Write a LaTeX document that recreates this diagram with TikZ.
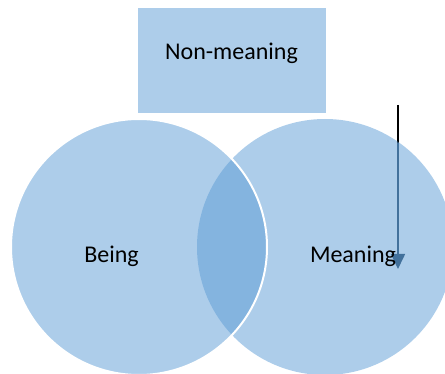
\documentclass[tikz,border=0pt]{standalone}
\usepackage{fontspec}
\setmainfont{Carlito}
\usetikzlibrary{arrows.meta}
\definecolor{accent}{HTML}{5B9BD5}
\definecolor{arrowblue}{HTML}{2A4763}
\tikzset{
  venn/.style={circle, minimum size=256pt, inner sep=0pt, fill=accent, fill opacity=0.5},
  vennedge/.style={venn, draw=white, line width=2pt, draw opacity=1},
  boxnode/.style={rectangle, minimum width=188pt, minimum height=105pt, inner sep=0pt, fill=accent, fill opacity=0.5},
  lbl/.style={font=\fontsize{24}{28}\selectfont, text=black, anchor=base, inner sep=0pt},
  arrowline/.style={line width=1.6pt}
}
\begin{document}
\begin{tikzpicture}[x=1pt,y=-1pt]
\useasboundingbox (0,0) rectangle (445,374);
\clip (0,0) rectangle (445,374);
\node[boxnode] (nonbox) at (232,60.5) {};
\node[lbl] (nonmeaning) at (231.5,60) {Non-meaning};
\coordinate (atop) at (398,105);
\coordinate (aentry) at (398,143);
\coordinate (aend) at (398,269);
\draw[arrowline, black] (atop) -- (aentry);
\draw[arrowline, arrowblue, -{Triangle[width=14pt,length=15pt]}] (aentry) -- (aend);
\node[venn] (meaningcircle) at (325,247) {};
\node[vennedge] (beingcircle) at (139,247) {};
\node[lbl] (being) at (111.5,263) {Being};
\node[lbl] (meaning) at (353,263) {Meaning};
\end{tikzpicture}
\end{document}
